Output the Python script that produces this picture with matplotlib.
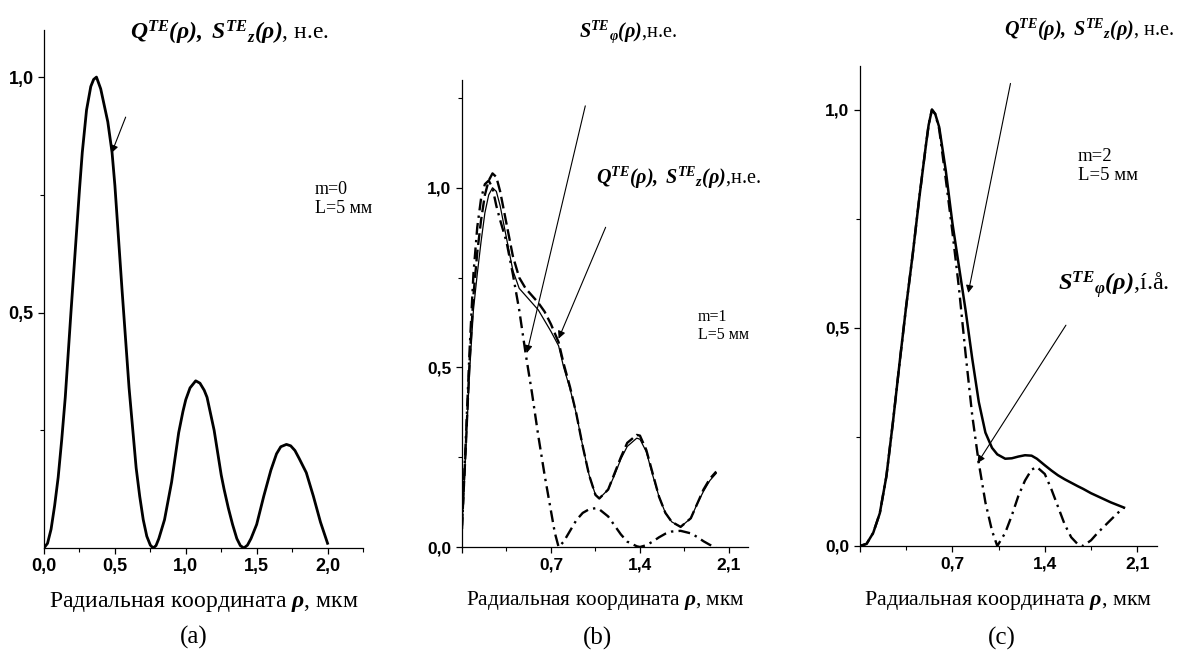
#!/usr/bin/env python3
"""Radial profiles of the TE-mode power density and Poynting components for m=0, 1, 2."""

import matplotlib

matplotlib.use("Agg")
import matplotlib.pyplot as plt

# (a) m=0: Q, S_z coincide
A_RHO = [0.00, 0.025, 0.05, 0.075, 0.10, 0.125, 0.15, 0.19, 0.22, 0.25, 0.27, 0.30, 0.33, 0.35,
         0.37, 0.40, 0.45, 0.48, 0.50, 0.55, 0.60, 0.625, 0.65, 0.675, 0.70, 0.725, 0.75, 0.77,
         0.79, 0.81, 0.85, 0.90, 0.95, 0.98, 1.00, 1.03, 1.07, 1.10, 1.13, 1.15, 1.20, 1.25,
         1.27, 1.30, 1.33, 1.36, 1.385, 1.41, 1.435, 1.46, 1.50, 1.55, 1.60, 1.64, 1.67, 1.71,
         1.74, 1.77, 1.80, 1.85, 1.90, 1.95, 2.00]
A_Q = [0.00, 0.01, 0.04, 0.09, 0.15, 0.23, 0.32, 0.50, 0.63, 0.76, 0.84, 0.93, 0.98, 0.995,
       1.00, 0.975, 0.905, 0.84, 0.77, 0.55, 0.34, 0.255, 0.17, 0.11, 0.06, 0.025, 0.006, 0.00,
       0.005, 0.02, 0.06, 0.14, 0.245, 0.29, 0.315, 0.34, 0.355, 0.35, 0.335, 0.32, 0.25, 0.155,
       0.125, 0.085, 0.05, 0.02, 0.005, 0.00, 0.006, 0.02, 0.05, 0.11, 0.165, 0.20, 0.215, 0.22,
       0.217, 0.207, 0.19, 0.16, 0.11, 0.055, 0.01]

# (b) m=1
B_RHO = [0.00, 0.03, 0.06, 0.09, 0.12, 0.15, 0.18, 0.21, 0.24, 0.27, 0.30, 0.35, 0.40, 0.45,
         0.50, 0.55, 0.60, 0.65, 0.70, 0.73, 0.76, 0.80, 0.85, 0.90, 0.95, 1.00, 1.05, 1.08,
         1.15, 1.20, 1.25, 1.30, 1.375, 1.40, 1.45, 1.50, 1.55, 1.60, 1.65, 1.72, 1.80, 1.85,
         1.90, 1.95, 2.00]
B_Q = [0.057, 0.27, 0.49, 0.66, 0.76, 0.85, 0.93, 0.98, 1.00, 0.99, 0.95, 0.86, 0.77, 0.72,
       0.70, 0.68, 0.66, 0.63, 0.60, 0.58, 0.56, 0.50, 0.44, 0.37, 0.28, 0.20, 0.145, 0.135,
       0.16, 0.20, 0.245, 0.28, 0.303, 0.30, 0.265, 0.20, 0.14, 0.095, 0.07, 0.056, 0.08, 0.12,
       0.155, 0.185, 0.205]
B_SZ = [0.06, 0.28, 0.52, 0.70, 0.82, 0.91, 0.98, 1.02, 1.04, 1.03, 0.99, 0.90, 0.81, 0.75,
        0.72, 0.70, 0.68, 0.655, 0.62, 0.595, 0.57, 0.51, 0.445, 0.37, 0.28, 0.20, 0.145, 0.135,
        0.16, 0.205, 0.25, 0.29, 0.312, 0.31, 0.27, 0.205, 0.14, 0.095, 0.07, 0.056, 0.08, 0.12,
        0.16, 0.19, 0.21]
B_SPHI = [0.05, 0.30, 0.55, 0.76, 0.89, 0.97, 1.01, 1.02, 1.00, 0.95, 0.91, 0.85, 0.76, 0.66,
          0.54, 0.43, 0.31, 0.20, 0.10, 0.04, 0.00, 0.015, 0.045, 0.075, 0.095, 0.105, 0.108,
          0.105, 0.085, 0.06, 0.035, 0.015, 0.002, 0.00, 0.005, 0.015, 0.027, 0.037, 0.043,
          0.045, 0.038, 0.028, 0.016, 0.006, 0.00]

# (c) m=2
C_RHO = [0.00, 0.05, 0.10, 0.15, 0.20, 0.25, 0.30, 0.35, 0.40, 0.45, 0.50, 0.52, 0.545, 0.57,
         0.60, 0.65, 0.70, 0.75, 0.80, 0.85, 0.90, 0.95, 1.00, 1.04, 1.10, 1.15, 1.20, 1.25,
         1.30, 1.34, 1.40, 1.45, 1.50, 1.55, 1.60, 1.65, 1.69, 1.75, 1.80, 1.85, 1.90, 1.95, 2.00]
C_Q = [0.00, 0.005, 0.03, 0.075, 0.16, 0.285, 0.42, 0.55, 0.67, 0.80, 0.92, 0.965, 1.00, 0.99,
       0.96, 0.86, 0.74, 0.64, 0.54, 0.43, 0.33, 0.26, 0.225, 0.21, 0.20, 0.201, 0.205, 0.208,
       0.207, 0.20, 0.185, 0.173, 0.162, 0.153, 0.145, 0.137, 0.131, 0.121, 0.114, 0.107, 0.10,
       0.094, 0.088]
C_SPHI = [0.00, 0.005, 0.03, 0.075, 0.16, 0.285, 0.42, 0.55, 0.67, 0.80, 0.92, 0.965, 1.00,
          0.99, 0.955, 0.84, 0.72, 0.59, 0.44, 0.30, 0.19, 0.10, 0.035, 0.00, 0.03, 0.07, 0.115,
          0.15, 0.175, 0.181, 0.165, 0.13, 0.09, 0.05, 0.02, 0.004, 0.00, 0.013, 0.03, 0.045,
          0.06, 0.075, 0.088]

W, H = 1178, 650
SANS = "Liberation Sans"
SERIF = "Liberation Serif"

QS_LABEL = r"$\mathbfit{Q^{TE}(ρ),\ S^{TE}{}_{z}(ρ)}$"
SPHI_LABEL = r"$\mathbfit{S^{TE}{}_{φ}(ρ)}$"
XLABEL = r"Радиальная координата $\mathbfit{ρ}$, мкм"

DASH = (0, (5, 2))
DASHDOT = (0, (5, 2.2, 1, 2.2))


def pos(px, py):
    return px / W, 1 - py / H


def fmt(v):
    return f"{v:.1f}".replace(".", ",")


def style_axes(ax, xlim, ylim, xticks, xlabels, xminor, yticks, yminor, tick_size):
    ax.set_xlim(*xlim)
    ax.set_ylim(*ylim)
    ax.spines[["top", "right"]].set_visible(False)
    for side in ("left", "bottom"):
        ax.spines[side].set_linewidth(0.9)
    ax.set_xticks(xticks, labels=xlabels, fontfamily=SANS, fontweight="bold", fontsize=tick_size)
    ax.set_yticks(yticks, labels=[fmt(v) for v in yticks], fontfamily=SANS,
                  fontweight="bold", fontsize=tick_size)
    ax.set_xticks(xminor, minor=True)
    ax.set_yticks(yminor, minor=True)
    ax.tick_params(which="major", direction="out", length=4.5, width=0.9, pad=3)
    ax.tick_params(which="minor", direction="out", length=2.8, width=0.8)


def arrow(ax, start, end):
    ax.annotate("", xy=end, xytext=start, annotation_clip=False,
                arrowprops=dict(arrowstyle="-|>", color="black", lw=0.8,
                                shrinkA=0, shrinkB=0, mutation_scale=11))


def panel_a(fig):
    ax = fig.add_axes([44 / W, 1 - 548 / H, (363 - 44) / W, (548 - 30) / H])
    ax.plot(A_RHO, A_Q, color="black", lw=2.0)
    style_axes(ax, (0, 2.25), (0, 1.1),
               [0, 0.5, 1.0, 1.5, 2.0], [fmt(v) for v in [0, 0.5, 1.0, 1.5, 2.0]],
               [0.25, 0.75, 1.25, 1.75, 2.25], [0.5, 1.0], [0.25, 0.75], 13)
    arrow(ax, (0.576, 0.915), (0.477, 0.839))
    fig.text(*pos(230, 33), QS_LABEL + ", н.е.", fontsize=17, ha="center", va="center")
    fig.text(*pos(315, 199), "m=0\nL=5 мм", fontsize=13, ha="left", va="center",
             linespacing=1.1)
    fig.text(*pos(204, 602), XLABEL, fontsize=17, ha="center", va="center")
    fig.text(*pos(194, 637), "(a)", fontsize=18, ha="center", va="center")


def panel_b(fig):
    ax = fig.add_axes([462 / W, 1 - 547 / H, (748 - 462) / W, (547 - 80) / H])
    ax.plot(B_RHO, B_Q, color="black", lw=0.9)
    ax.plot(B_RHO, B_SZ, color="black", lw=1.7, ls=DASH)
    ax.plot(B_RHO, B_SPHI, color="black", lw=1.7, ls=DASHDOT)
    style_axes(ax, (0, 2.25), (0, 1.3),
               [0, 0.7, 1.4, 2.1], ["", "0,7", "1,4", "2,1"],
               [0.35, 1.05, 1.75], [0, 0.5, 1.0], [0.25, 0.75, 1.25], 12.5)
    arrow(ax, (0.97, 1.228), (0.51, 0.54))
    arrow(ax, (1.13, 0.89), (0.76, 0.58))
    fig.text(*pos(628, 32), SPHI_LABEL + ",н.е.", fontsize=14.5, ha="center", va="center")
    fig.text(*pos(679, 178), QS_LABEL + ",н.е.", fontsize=14.5, ha="center", va="center")
    fig.text(*pos(698, 326), "m=1\nL=5 мм", fontsize=11.5, ha="left", va="center",
             linespacing=1.15)
    fig.text(*pos(605, 600), XLABEL, fontsize=15.3, ha="center", va="center")
    fig.text(*pos(597, 638), "(b)", fontsize=18, ha="center", va="center")


def panel_c(fig):
    ax = fig.add_axes([860 / W, 1 - 546 / H, (1157 - 860) / W, (546 - 66) / H])
    ax.plot(C_RHO, C_Q, color="black", lw=1.8)
    ax.plot(C_RHO, C_SPHI, color="black", lw=1.7, ls=DASHDOT)
    style_axes(ax, (0, 2.25), (0, 1.1),
               [0, 0.7, 1.4, 2.1], ["", "0,7", "1,4", "2,1"],
               [0.35, 1.05, 1.75], [0, 0.5, 1.0], [0.25, 0.75], 12.5)
    arrow(ax, (1.14, 1.06), (0.82, 0.58))
    arrow(ax, (1.56, 0.506), (0.89, 0.19))
    fig.text(*pos(1089, 30), QS_LABEL + ", н.е.", fontsize=14.5, ha="center", va="center")
    fig.text(*pos(1078, 166), "m=2\nL=5 мм", fontsize=13.5, ha="left", va="center",
             linespacing=1.1)
    fig.text(*pos(1058, 285), SPHI_LABEL + ",í.å.", fontsize=17.5, ha="left", va="center")
    fig.text(*pos(1008, 600), XLABEL, fontsize=15.8, ha="center", va="center")
    fig.text(*pos(1002, 638), "(c)", fontsize=18, ha="center", va="center")


def main():
    plt.rcParams.update({
        "font.family": [SERIF, "DejaVu Serif"],
        "mathtext.fontset": "custom",
        "mathtext.rm": SERIF,
        "mathtext.it": f"{SERIF}:italic",
        "mathtext.bf": f"{SERIF}:bold",
        "mathtext.bfit": f"{SERIF}:bold:italic",
        "figure.facecolor": "white",
        "axes.facecolor": "white",
    })
    fig = plt.figure(figsize=(W / 100, H / 100), dpi=100)
    panel_a(fig)
    panel_b(fig)
    panel_c(fig)
    fig.savefig("out.png", dpi=100)


if __name__ == "__main__":
    main()
